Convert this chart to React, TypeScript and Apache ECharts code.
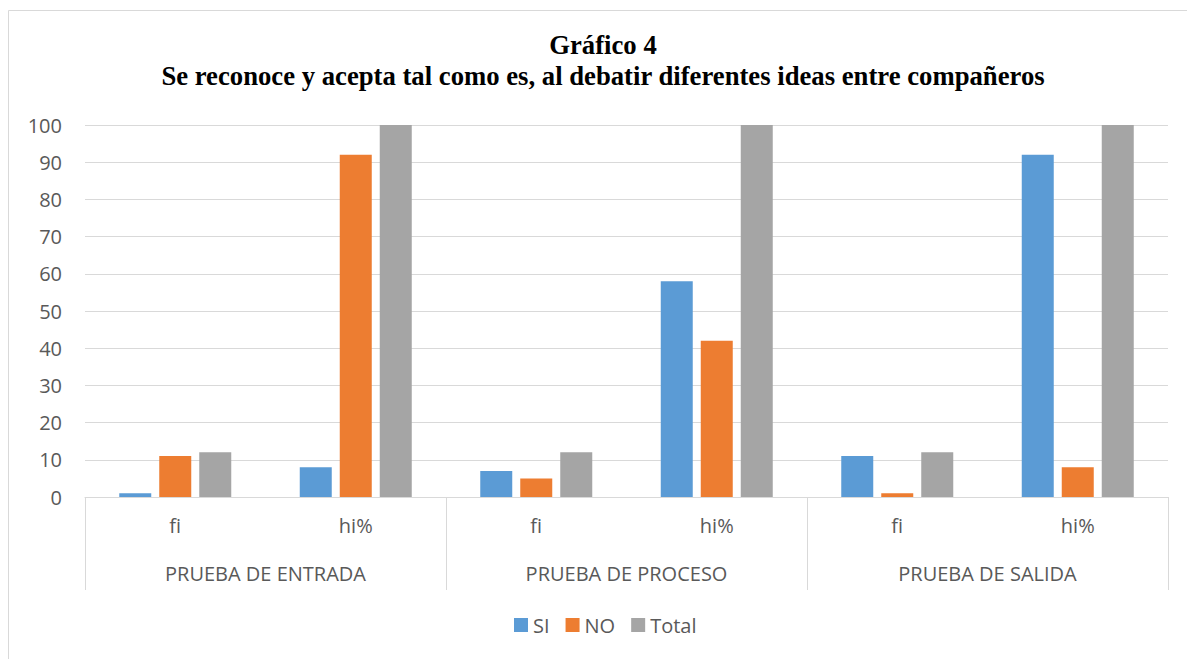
import React, { useEffect, useRef } from "react";
import * as echarts from "echarts";

const subCategories = ["fi", "hi%", "fi", "hi%", "fi", "hi%"];
const groupCategories = ["PRUEBA DE ENTRADA", "PRUEBA DE PROCESO", "PRUEBA DE SALIDA"];
const siValues = [1, 8, 7, 58, 11, 92];
const noValues = [11, 92, 5, 42, 1, 8];
const totalValues = [12, 100, 12, 100, 12, 100];
const titleLine1 = "Gráfico 4";
const titleLine2 = "Se reconoce y acepta tal como es, al debatir diferentes ideas entre compañeros";

const labelFont = "'Open Sans', 'Liberation Sans', sans-serif";

export default function App() {
  const ref = useRef<HTMLDivElement>(null);
  useEffect(() => {
    if (!ref.current) return;
    const chart = echarts.init(ref.current, null, { renderer: "svg" });
    const barStyle = (color: string) => ({
      type: "bar" as const,
      barWidth: 32,
      barGap: "25%",
      itemStyle: { color },
    });
    chart.setOption({
      animation: false,
      backgroundColor: "#ffffff",
      title: {
        text: titleLine1 + "\n" + titleLine2,
        left: 598,
        textAlign: "center",
        top: 24,
        textStyle: {
          fontFamily: "'Liberation Serif', 'Times New Roman', serif",
          fontWeight: "bold",
          fontSize: 26.7,
          lineHeight: 31,
          color: "#000000",
        },
      },
      graphic: [
        {
          type: "rect",
          shape: { x: 8.5, y: 10.5, width: 1300, height: 800 },
          style: { fill: "none", stroke: "#d9d9d9", lineWidth: 1 },
          silent: true,
        },
      ],
      legend: {
        bottom: 19,
        left: 509,
        itemWidth: 14,
        itemHeight: 14,
        itemGap: 16,
        icon: "rect",
        textStyle: { fontFamily: labelFont, fontSize: 20, color: "#595959" },
        data: ["SI", "NO", "Total"],
      },
      grid: { left: 85, right: 19, top: 125, bottom: 162, containLabel: false },
      xAxis: [
        {
          type: "category",
          data: subCategories,
          position: "bottom",
          axisLine: { show: true, lineStyle: { color: "#d9d9d9", width: 1 } },
          axisTick: { show: false },
          axisLabel: {
            margin: 18,
            fontFamily: labelFont,
            fontSize: 20,
            color: "#595959",
          },
        },
        {
          type: "category",
          data: groupCategories,
          position: "bottom",
          axisLine: { show: false },
          axisTick: { show: true, length: 93, lineStyle: { color: "#d9d9d9", width: 1 } },
          axisLabel: {
            margin: 66,
            fontFamily: labelFont,
            fontSize: 20,
            color: "#595959",
          },
        },
      ],
      yAxis: {
        type: "value",
        min: 0,
        max: 100,
        interval: 10,
        axisLine: { show: false },
        axisTick: { show: false },
        splitLine: { lineStyle: { color: "#d9d9d9", width: 1 } },
        axisLabel: {
          margin: 23,
          fontFamily: labelFont,
          fontSize: 20,
          color: "#595959",
        },
      },
      series: [
        { name: "SI", data: siValues, ...barStyle("#5b9bd5") },
        { name: "NO", data: noValues, ...barStyle("#ed7d31") },
        { name: "Total", data: totalValues, ...barStyle("#a5a5a5") },
      ],
    });
    return () => chart.dispose();
  }, []);
  return (
    <div
      ref={ref}
      style={{ position: "fixed", left: 0, top: 0, width: 1187, height: 659 }}
    />
  );
}
